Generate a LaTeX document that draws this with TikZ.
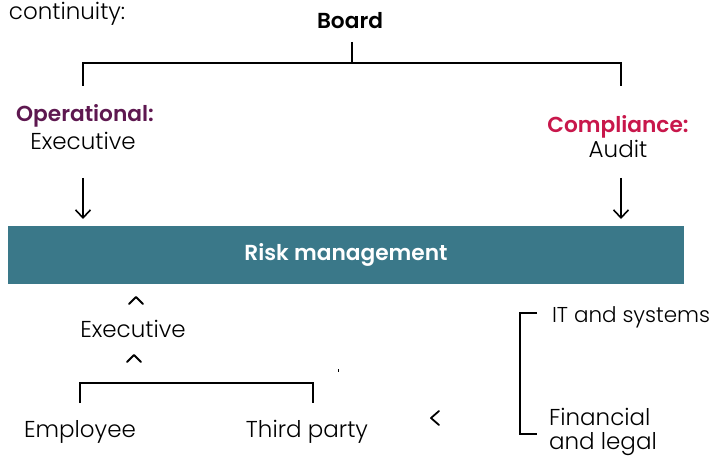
\documentclass[tikz,border=0pt]{standalone}
\usepackage{fontspec}
\setmainfont{Poppins}[UprightFont=* Light, BoldFont=* SemiBold]
\usetikzlibrary{arrows,arrows.meta,positioning}
\definecolor{opcol}{HTML}{5E1850}
\definecolor{cpcol}{HTML}{C8174B}
\definecolor{barcol}{HTML}{3A7889}

\begin{document}
\begin{tikzpicture}[x=1pt,y=-1pt,->,>={Straight Barb[length=8pt,width=15pt,line width=1.6pt]},line width=2pt,font=\fontsize{23}{24}\selectfont]
  \tikzstyle{every node}=[inner sep=0pt,text=black]
  \tikzstyle{head}=[font=\fontsize{21.7}{25}\selectfont\bfseries]
  \tikzstyle{chev}=[-,line width=1.8pt,line cap=round,line join=round]
  \useasboundingbox (0,0) rectangle (714,457);

  \node[anchor=base west] (C)  at (8,20)   {continuity:};
  \node[head,anchor=base] (B)  at (350,29) {Board};
  \node[head,anchor=base,text=opcol] (O) at (85,122) {Operational:};
  \node[anchor=base] (OE) at (83,150) {Executive};
  \node[head,anchor=base,text=cpcol] (P) at (618,133) {Compliance:};
  \node[anchor=base] (PA) at (618,158) {Audit};
  \node[fill=barcol,minimum width=676pt,minimum height=58pt,text=white,font=\fontsize{21.7}{25}\selectfont\bfseries] (R) at (346,255) {Risk management};
  \node[anchor=base] (E)  at (133,337) {Executive};
  \node[anchor=base] (EM) at (80,437)  {Employee};
  \node[anchor=base] (TP) at (307,437) {Third party};
  \node[anchor=base west,font=\fontsize{21.5}{24}\selectfont] (IT) at (551,322) {IT and systems};
  \node[anchor=base west,align=left] (FL) at (548,449) {Financial\\and legal};

  \coordinate (Bt) at (352,42);
  \coordinate (Lt) at (83,86);
  \coordinate (Rt) at (621,86);
  \coordinate (La) at (83,178);
  \coordinate (Ra) at (621,178);
  \coordinate (Lb) at (83,219);
  \coordinate (Rb) at (621,219);
  \coordinate (Eb) at (80,403);
  \coordinate (Tb) at (313,403);
  \coordinate (Ft) at (537,313);
  \coordinate (Fb) at (537,434);

  \draw[-] (Bt) -- (352,63);
  \draw[-] (Lt) -- ++(0,-23) -| (Rt);
  \draw[line width=1.6pt] (La) -- (Lb);
  \draw[line width=1.6pt] (Ra) -- (Rb);
  \draw[-] (Eb) -- ++(0,-20) -| (Tb);
  \draw[-] (Ft) -- ++(-17,0) |- (Fb);

  % chevrons
  \draw[chev] (129,304) -- (136,297) -- (143,304);
  \draw[chev] (127,362) -- (134,355) -- (141,362);
  \draw[chev] (439,411) -- (431,418) -- (439,425);
  \draw[-,line width=1pt] (338,369) -- (338,372);
\end{tikzpicture}
\end{document}
